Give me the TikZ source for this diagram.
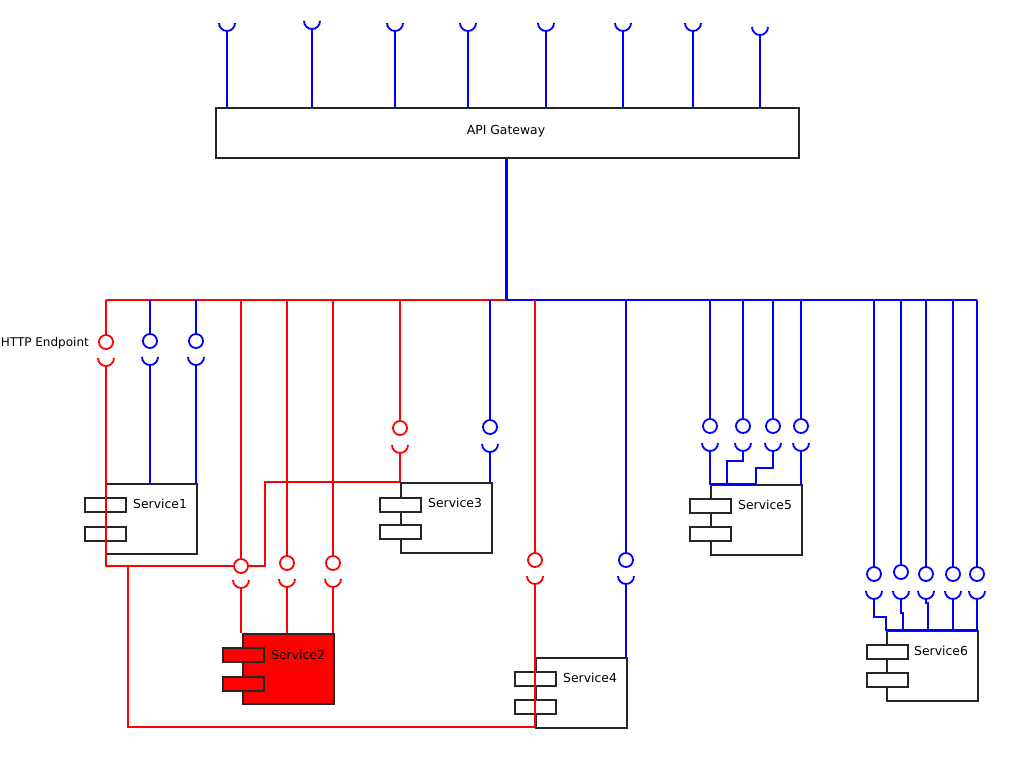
\documentclass[tikz,border=0pt]{standalone}
\usepackage{fontspec}
\setmainfont{DejaVu Sans}
\newcommand\lolli[5]{% name, x, ball y, cup y, colour
  \node[ball, draw=#5] (#1) at (#2,#3) {};
  \draw[wire, draw=#5] (#2-8,#4) arc (180:0:8);
  \coordinate (#1c) at (#2,#4+8);}
\newcommand\topcup[3]{% name, x, cup y
  \draw[bw] (#2-8,#3) arc (180:0:8);
  \coordinate (#1) at (#2,#3+8);
  \draw[bw] (#1) -- (#1 |- gw.north);}
\begin{document}
\begin{tikzpicture}[yscale=-1, x=1pt, y=1pt,
  wire/.style={line width=1.8pt},
  rw/.style={wire, draw=red},
  bw/.style={wire, draw=blue},
  ball/.style={circle, line width=1.8pt, minimum size=14pt, inner sep=0pt, fill=white},
  box/.style={draw=black!85, line width=1.6pt, inner sep=0pt, anchor=north west},
  svc/.style={box, minimum width=91pt, minimum height=70pt, fill=white},
  comp/.style={box, minimum width=41pt, minimum height=14pt, fill=white},
  lbl/.style={font=\fontsize{12.4}{14}\selectfont, anchor=west, inner sep=0pt}]
\useasboundingbox (0,0) rectangle (1035,763);

% API gateway
\node[box, minimum width=583pt, minimum height=50pt] (gw) at (215,107) {};
\node[lbl, anchor=center] (gwt) at (506,131) {API Gateway};
\topcup{t1}{227}{23}
\topcup{t2}{312}{21}
\topcup{t3}{395}{23}
\topcup{t4}{468}{23}
\topcup{t5}{546}{23}
\topcup{t6}{623}{23}
\topcup{t7}{693}{23}
\topcup{t8}{760}{27}

% services
\node[svc] (s1) at (105,483) {};
\node[comp] (s1a) at (84,497) {};
\node[comp] (s1b) at (84,526) {};
\node[lbl] (s1t) at (133,504) {Service1};

\node[svc, fill=red] (s2) at (242,633) {};
\node[comp, fill=red] (s2a) at (222,647) {};
\node[comp, fill=red] (s2b) at (222,676) {};
\node[lbl] (s2t) at (271,655) {Service2};

\node[svc] (s3) at (400,482) {};
\node[comp] (s3a) at (379,497) {};
\node[comp] (s3b) at (379,524) {};
\node[lbl] (s3t) at (428,503) {Service3};

\node[svc] (s4) at (535,657) {};
\node[comp] (s4a) at (514,671) {};
\node[comp] (s4b) at (514,699) {};
\node[lbl] (s4t) at (563,678) {Service4};

\node[svc] (s5) at (710,484) {};
\node[comp] (s5a) at (689,498) {};
\node[comp] (s5b) at (689,526) {};
\node[lbl] (s5t) at (738,505) {Service5};

\node[svc] (s6) at (886,630) {};
\node[comp] (s6a) at (866,644) {};
\node[comp] (s6b) at (866,672) {};
\node[lbl] (s6t) at (914,651) {Service6};

% bus
\coordinate (hub) at (506,300);
\draw[line width=3pt, blue] (gw.south -| hub) -- (hub);
\draw[bw] (150,300) -- (977,300);
\draw[rw] (106,300) -- (hub);

% lollipops
\lolli{R1}{106}{342}{358}{red}
\lolli{R2}{241}{566}{580}{red}
\lolli{R3}{287}{563}{579}{red}
\lolli{R4}{333}{563}{579}{red}
\lolli{R5}{400}{428}{445}{red}
\lolli{R6}{535}{560}{576}{red}
\lolli{B1}{150}{341}{357}{blue}
\lolli{B2}{196}{341}{357}{blue}
\lolli{B3}{490}{427}{444}{blue}
\lolli{B4}{626}{560}{576}{blue}
\lolli{B5}{710}{426}{443}{blue}
\lolli{B6}{743}{426}{443}{blue}
\lolli{B7}{773}{426}{443}{blue}
\lolli{B8}{801}{426}{443}{blue}
\lolli{B9}{874}{574}{591}{blue}
\lolli{B10}{901}{572}{591}{blue}
\lolli{B11}{926}{574}{591}{blue}
\lolli{B12}{953}{574}{591}{blue}
\lolli{B13}{977}{574}{591}{blue}

\node[lbl, anchor=east, font=\fontsize{12}{14}\selectfont] (http) at (89,343) {HTTP Endpoint};

% drops from bus
\foreach \n in {R1,R2,R3,R4,R5,R6} \draw[rw] (\n |- hub) -- (\n.north);
\foreach \n in {B1,B2,B3,B4,B5,B6,B7,B8,B9,B10,B11,B12,B13} \draw[bw] (\n |- hub) -- (\n.north);

% red wiring
\coordinate (lowturn) at (128,727);
\draw[rw] (R1c) -- (R1c |- R2) -- (R2.west);
\draw[rw] (lowturn |- R2) -- (lowturn) -- (lowturn -| R6c);
\draw[rw] (R2.east) -- (265,566) -- (265,482) -- (R5c |- s3.north);
\draw[rw] (R2c) -- (R2c |- s2.north);
\draw[rw] (R3c) -- (R3c |- s2.north);
\draw[rw] (R4c) -- (R4c |- s2.north);
\draw[rw] (R5c) -- (R5c |- s3.north);
\draw[rw] (R6c) -- (lowturn -| R6c);

% blue wiring
\draw[bw] (B1c) -- (B1c |- s1.north);
\draw[bw] (B2c) -- (B2c |- s1.north);
\draw[bw] (B3c) -- (B3c |- s3.north);
\draw[bw] (B4c) -- (B4c |- s4.north);
\draw[bw] (B5c) -- (B5c |- s5.north) -- (756,484);
\draw[bw] (B6c) -- (743,461) -- (727,461) -- (727,484);
\draw[bw] (B7c) -- (773,468) -- (756,468) -- (756,484);
\draw[bw] (B8c) -- (B8c |- s5.north);
\draw[bw] (B9c) -- (874,617) -- (886,617) -- (886,630) -- (977,630);
\draw[bw] (B10c) -- (901,613) -- (903,613) -- (903,630);
\draw[bw] (B11c) -- (926,603) -- (928,603) -- (928,630);
\draw[bw] (B12c) -- (B12c |- s6.north);
\draw[bw] (B13c) -- (B13c |- s6.north);
\end{tikzpicture}
\end{document}
